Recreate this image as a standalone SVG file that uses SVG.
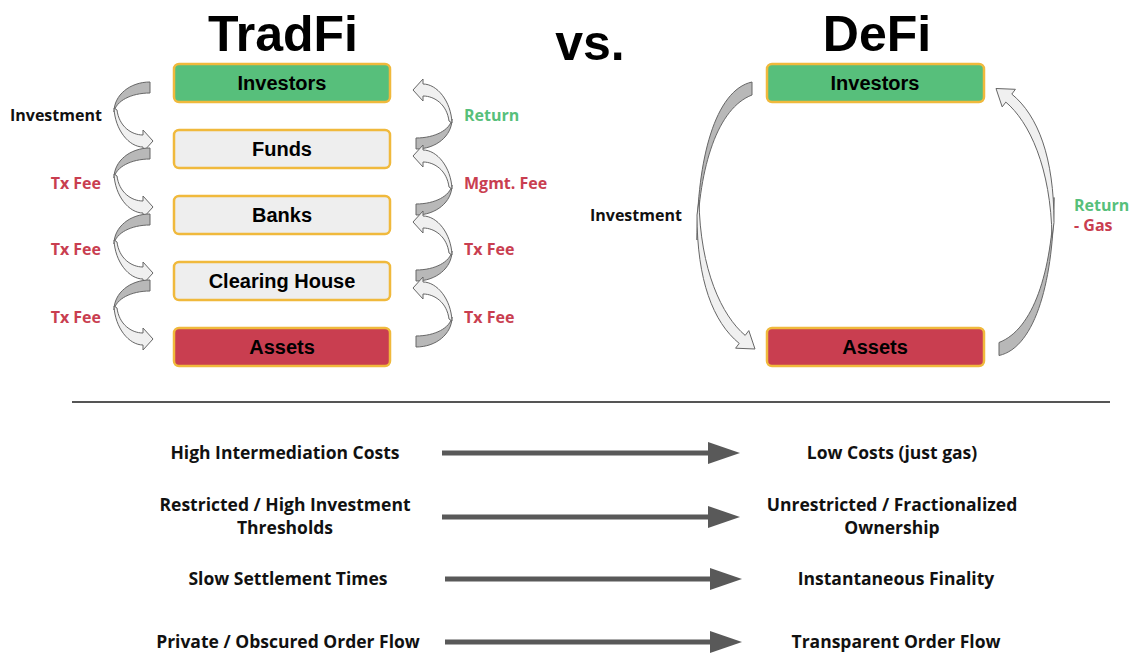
<svg xmlns="http://www.w3.org/2000/svg" xmlns:xlink="http://www.w3.org/1999/xlink" width="1140" height="672" viewBox="0 0 1140 672">
<style>
.title{font-family:"Liberation Sans",Arial,sans-serif;font-weight:700;font-size:50px;fill:#000;text-anchor:middle}
.box{stroke:#f0b93c;stroke-width:2.5}
.green{fill:#57bf7b}.grey{fill:#eeeeee}.red{fill:#c93e50}
.bt{font-family:"Liberation Sans",Arial,sans-serif;font-weight:700;font-size:20px;fill:#000;text-anchor:middle}
.lbl{font-family:"Open Sans","Noto Sans",sans-serif;font-weight:700;font-size:16px}
.k{fill:#111}.r{fill:#c93e50}.g{fill:#57bf7b}
.dk{fill:#b8b8b8;stroke:#666;stroke-width:1}
.lt{fill:#f0f0f0;stroke:#666;stroke-width:1}
.cmp{font-family:"Open Sans","Noto Sans",sans-serif;font-weight:700;font-size:17.5px;fill:#111;text-anchor:middle}
.bar{stroke:#595959;stroke-width:5}
.head{fill:#595959}
</style>
<defs>
<g id="sa">
<path class="dk" d="M150,82 C130,82 114,95 114,112 C116,101 131,93 150,93 Z"/>
<path class="lt" d="M114,108 C115,130 129,147 143,147 L143,152 L153,141 L143,130 L143,135 C131,135 119,126 117,110 Z"/>
</g>
<g id="ba">
<path class="dk" d="M752,82 C715,90 697,160 697,240 C699,165 718,108 752,95 Z"/>
<path class="lt" d="M699,200 C700,270 722,316 745.2,335.4 L748.8,330.6 L755,349 L735.6,348.2 L739.2,343.4 C713,322 697,280 697,215 Z"/>
</g>
</defs>

<g id="titles">
<text class="title" x="283" y="51">TradFi</text>
<text class="title" x="590" y="60">vs.</text>
<text class="title" x="877" y="51">DeFi</text>
</g>

<g id="tradfi-investors"><rect class="box green" x="174" y="64" width="216" height="38" rx="5"/><text class="bt" x="282" y="90">Investors</text></g>
<g id="tradfi-funds"><rect class="box grey" x="174" y="130" width="216" height="38" rx="5"/><text class="bt" x="282" y="156">Funds</text></g>
<g id="tradfi-banks"><rect class="box grey" x="174" y="196" width="216" height="38" rx="5"/><text class="bt" x="282" y="222">Banks</text></g>
<g id="tradfi-clearing"><rect class="box grey" x="174" y="262" width="216" height="38" rx="5"/><text class="bt" x="282" y="288">Clearing House</text></g>
<g id="tradfi-assets"><rect class="box red" x="174" y="328" width="216" height="38" rx="5"/><text class="bt" x="282" y="354">Assets</text></g>

<g id="defi-investors"><rect class="box green" x="767" y="64" width="217" height="38" rx="5"/><text class="bt" x="875" y="90">Investors</text></g>
<g id="defi-assets"><rect class="box red" x="767" y="328" width="217" height="38" rx="5"/><text class="bt" x="875" y="354">Assets</text></g>

<g id="connectors">
<use xlink:href="#sa"/>
<use xlink:href="#sa" transform="translate(0,66)"/>
<use xlink:href="#sa" transform="translate(0,132)"/>
<use xlink:href="#sa" transform="translate(0,198)"/>
<use xlink:href="#sa" transform="rotate(180 283 115.5)"/>
<use xlink:href="#sa" transform="translate(0,66) rotate(180 283 115.5)"/>
<use xlink:href="#sa" transform="translate(0,132) rotate(180 283 115.5)"/>
<use xlink:href="#sa" transform="translate(0,198) rotate(180 283 115.5)"/>
<use xlink:href="#ba"/>
<use xlink:href="#ba" transform="rotate(180 875.5 218.75)"/>
<line x1="72" y1="402" x2="1110" y2="402" stroke="#555" stroke-width="2"/>
<line class="bar" x1="442" y1="453" x2="712" y2="453"/><polygon class="head" points="708,442 740,453 708,464"/>
<line class="bar" x1="442" y1="517" x2="712" y2="517"/><polygon class="head" points="708,506 740,517 708,528"/>
<line class="bar" x1="445" y1="579" x2="714" y2="579"/><polygon class="head" points="710,568 742,579 710,590"/>
<line class="bar" x1="445" y1="642" x2="714" y2="642"/><polygon class="head" points="710,631 742,642 710,653"/>
</g>

<g id="labels">
<text class="lbl k" x="10" y="121">Investment</text>
<text class="lbl r" x="101" y="189" text-anchor="end">Tx Fee</text>
<text class="lbl r" x="101" y="255" text-anchor="end">Tx Fee</text>
<text class="lbl r" x="101" y="323" text-anchor="end">Tx Fee</text>
<text class="lbl g" x="464" y="121">Return</text>
<text class="lbl r" x="464" y="189">Mgmt. Fee</text>
<text class="lbl r" x="464" y="255">Tx Fee</text>
<text class="lbl r" x="464" y="323">Tx Fee</text>
<text class="lbl k" x="590" y="221">Investment</text>
<text class="lbl g" x="1074" y="211">Return</text>
<text class="lbl r" x="1074" y="231">- Gas</text>
</g>

<g id="comparison">
<text class="cmp" x="285" y="459">High Intermediation Costs</text>
<text class="cmp" x="285" y="511">Restricted / High Investment</text>
<text class="cmp" x="285" y="534">Thresholds</text>
<text class="cmp" x="288" y="585">Slow Settlement Times</text>
<text class="cmp" x="288" y="648">Private / Obscured Order Flow</text>
<text class="cmp" x="892" y="459">Low Costs (just gas)</text>
<text class="cmp" x="892" y="511">Unrestricted / Fractionalized</text>
<text class="cmp" x="892" y="534">Ownership</text>
<text class="cmp" x="896" y="585">Instantaneous Finality</text>
<text class="cmp" x="896" y="648">Transparent Order Flow</text>
</g>
</svg>
